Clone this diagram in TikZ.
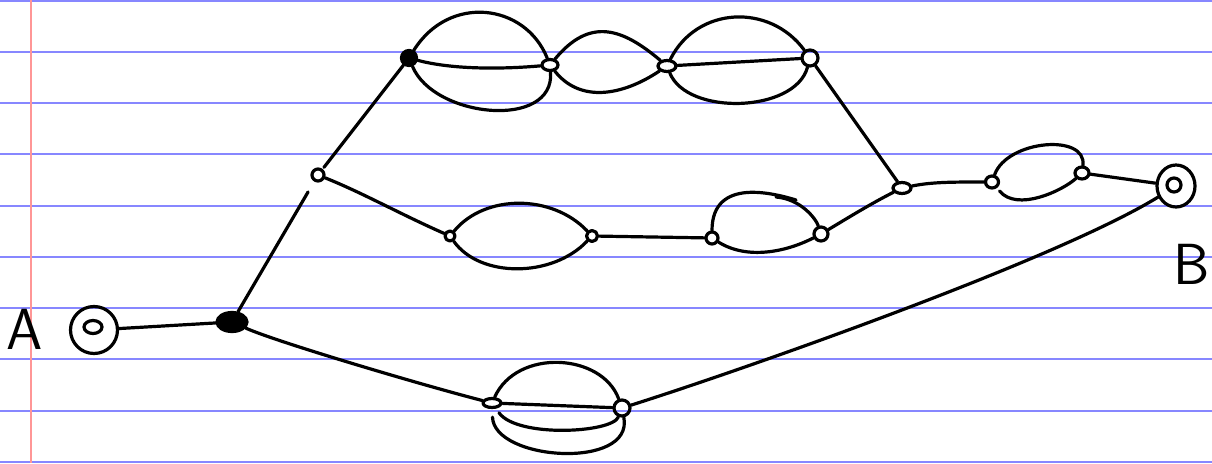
\documentclass[tikz,border=0pt]{standalone}
\usetikzlibrary{shapes.geometric}
\definecolor{ruled}{RGB}{135,135,255}
\definecolor{margin}{RGB}{255,150,150}
\begin{document}
\begin{tikzpicture}[x=1pt,y=-1pt,
  ink/.style={line width=3.2pt,line cap=round,line join=round,black},
  dotnode/.style={ellipse,draw,ink,inner sep=0pt,minimum width=#1,minimum height=#1},
  dotnode/.default=11pt,
  blob/.style={ellipse,draw,ink,fill=black,inner sep=0pt},
  lbl/.style={font=\sffamily\fontsize{58}{58}\selectfont,inner sep=0pt}]
\useasboundingbox (0,0) rectangle (1212,463);
\fill[white] (0,0) rectangle (1212,463);
% ruled paper
\foreach \y in {1,52,103,154,206,257,308,359,411,462}
  \draw[ruled,line width=1.6pt] (0,\y) -- (1212,\y);
\draw[margin,line width=1.8pt] (31,0) -- (31,463);

% labels
\node[lbl] (la) at (25,329) {A};
\node[lbl] (lb) at (1192,264) {B};

% nodes
\node[circle,draw,ink,minimum size=47pt,inner sep=0pt] (s) at (94,330) {};
\node[ellipse,draw,ink,minimum width=18pt,minimum height=13pt,inner sep=0pt] (si) at (93,327) {};
\node[blob,minimum width=30pt,minimum height=19pt] (n1) at (232,322) {};
\node[dotnode=12pt] (n2) at (318,175) {};
\node[blob,minimum width=15pt,minimum height=15pt] (t1) at (409,58) {};
\node[ellipse,draw,ink,minimum width=16pt,minimum height=11pt,inner sep=0pt] (t2) at (550,65) {};
\node[ellipse,draw,ink,minimum width=18pt,minimum height=11pt,inner sep=0pt] (t3) at (667,66) {};
\node[circle,draw,ink,minimum size=16pt,inner sep=0pt] (t4) at (810,58) {};
\node[dotnode=10pt] (m1) at (450,236) {};
\node[dotnode=11pt] (m2) at (592,236) {};
\node[dotnode=12pt] (m3) at (712,238) {};
\node[dotnode=14pt] (m4) at (821,234) {};
\node[ellipse,draw,ink,minimum width=18pt,minimum height=11pt,inner sep=0pt] (r1) at (902,188) {};
\node[ellipse,draw,ink,minimum width=13pt,minimum height=12pt,inner sep=0pt] (r2) at (992,182) {};
\node[ellipse,draw,ink,minimum width=14pt,minimum height=12pt,inner sep=0pt] (r3) at (1082,173) {};
\node[ellipse,draw,ink,minimum width=38pt,minimum height=42pt,inner sep=0pt] (bb) at (1176,186) {};
\node[circle,draw,ink,minimum size=14pt,inner sep=0pt] (bi) at (1174,185) {};
\node[ellipse,draw,ink,minimum width=18pt,minimum height=9pt,inner sep=0pt] (b1) at (492,403) {};
\node[circle,draw,ink,minimum size=16pt,inner sep=0pt] (b2) at (622,408) {};
\coordinate (hk1) at (776,197);
\coordinate (hk2) at (796,200);

% connectors
\draw[ink] (s) -- (n1);
\draw[ink,shorten >=12pt] (n1) -- (n2);
\draw[ink,shorten <=2pt] (n2) -- (t1);
\draw[ink] (n2) .. controls +(45,18) and +(-50,-22) .. (m1);
\draw[ink] (n1) .. controls +(45,20) and +(-70,-18) .. (b1);
% top chain
\draw[ink] (t1) .. controls +(40,-64) and +(-25,-62) .. (t2);
\draw[ink] (t1) .. controls +(45,12) and +(-45,4) .. (t2);
\draw[ink] (t1) .. controls +(25,60) and +(5,65) .. (t2);
\draw[ink] (t2) .. controls +(40,-48) and +(-45,-38) .. (t3);
\draw[ink] (t2) .. controls +(30,38) and +(-45,30) .. (t3);
\draw[ink] (t3) .. controls +(30,-60) and +(-40,-55) .. (t4);
\draw[ink] (t3) -- (t4);
\draw[ink] (t3) .. controls +(20,50) and +(-15,55) .. (t4);
\draw[ink] (t4) -- (r1);
% middle chain
\draw[ink] (m1) .. controls +(35,-42) and +(-40,-42) .. (m2);
\draw[ink] (m1) .. controls +(30,42) and +(-40,42) .. (m2);
\draw[ink] (m2) -- (m3);
\draw[ink] (m3) .. controls +(0,-62) and +(-20,-6) .. (hk2);
\draw[ink] (hk1) .. controls +(25,2) and +(-5,-15) .. (m4);
\draw[ink] (m3) .. controls +(35,22) and +(-35,18) .. (m4);
\draw[ink] (m4) .. controls +(25,-15) and +(-30,15) .. (r1);
% right chain
\draw[ink] (r1) .. controls +(30,-6) and +(-40,0) .. (r2);
\draw[ink] (r2) .. controls +(15,-42) and +(5,-40) .. (r3);
\draw[ink,shorten <=4pt] (r2) .. controls +(25,30) and +(-20,18) .. (r3);
\draw[ink] (r3) -- (bb);
% bottom
\draw[ink] (b1) .. controls +(25,-55) and +(-20,-55) .. (b2);
\draw[ink] (b1) -- (b2);
\draw[ink,shorten <=5pt] (b1) .. controls +(25,35) and +(-10,25) .. (b2);
\draw[ink,shorten <=8pt] (b1) .. controls +(2,58) and +(12,62) .. (b2);
\draw[ink] (b2) .. controls +(120,-38) and +(-120,74) .. (bb);
\end{tikzpicture}
\end{document}
